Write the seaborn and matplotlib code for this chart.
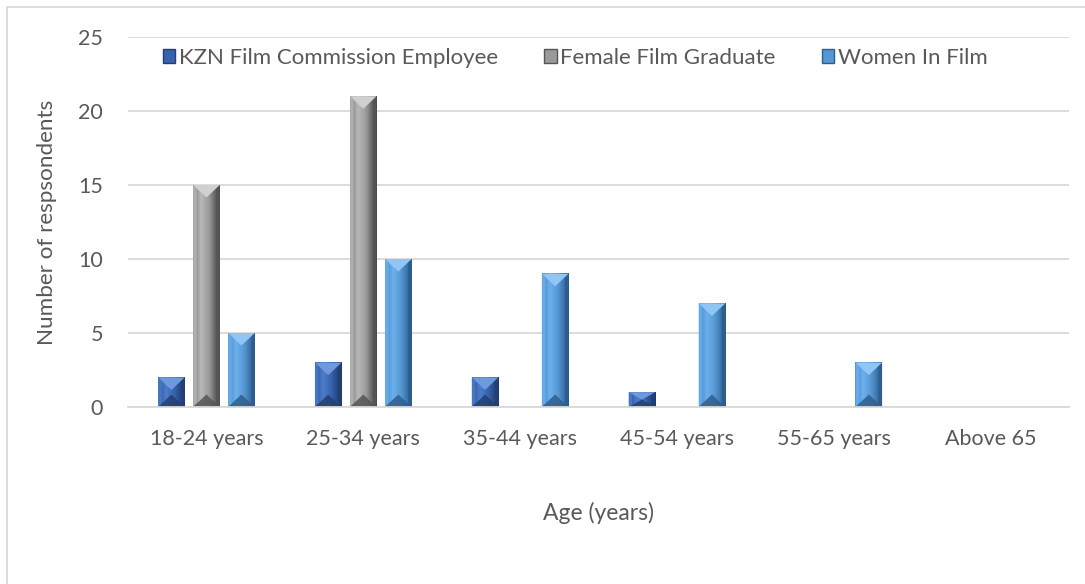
import pandas as pd
import seaborn as sns
import matplotlib.pyplot as plt
import matplotlib.patches as mpatches
from matplotlib.colors import LinearSegmentedColormap
import numpy as np

# Age groups and the number of respondents in each group
age_groups = ['18-24 years', '25-34 years', '35-44 years', '45-54 years', '55-65 years', 'Above 65']
series_names = ['KZN Film Commission Employee', 'Female Film Graduate', 'Women In Film']
kzn_employee = [2, 3, 2, 1, 0, 0]
film_graduate = [15, 21, 0, 0, 0, 0]
women_in_film = [5, 10, 9, 7, 3, 0]
y_ticks = [0, 5, 10, 15, 20, 25]

# base colours + gradient stops (left, highlight, mid, right) for the bevel look
base_colors = ['#3862AC', '#959595', '#559AD8']
gradients = [
    ['#2F5598', '#4C7DCB', '#3763AE', '#1B3566'],
    ['#7E7E7E', '#B8B8B8', '#9A9A9A', '#3C3C3C'],
    ['#468BCB', '#6CB0EC', '#5597D3', '#28598C'],
]
top_colors = ['#6F98E0', '#D0D0D0', '#8FC6F4']
bottom_colors = ['#243F72', '#555555', '#2F5E8E']

df = pd.DataFrame({
    'Age': age_groups * 3,
    'Series': [s for s in series_names for _ in age_groups],
    'Count': kzn_employee + film_graduate + women_in_film,
})

sns.set_style('white')
plt.rcParams['font.family'] = ['Lato', 'DejaVu Sans']
text_color = '#595959'

fig = plt.figure(figsize=(10.85, 5.84), dpi=100)
ax = fig.add_axes([128 / 1085, 1 - 407 / 584, 941 / 1085, 370 / 584])

sns.barplot(data=df, x='Age', y='Count', hue='Series', hue_order=series_names,
            palette=base_colors, width=0.67, gap=0.24, saturation=1,
            linewidth=0, ax=ax, legend=False)

ax.set_ylim(0, 25)
ax.set_xlim(-0.5, len(age_groups) - 0.5)
ax.set_yticks(y_ticks)
ax.yaxis.grid(True, color='#D9D9D9', linewidth=1.3)
ax.set_axisbelow(True)
for side in ['top', 'right', 'left']:
    ax.spines[side].set_visible(False)
ax.spines['bottom'].set_color('#D9D9D9')
ax.spines['bottom'].set_linewidth(1.3)
ax.tick_params(axis='both', length=0, labelsize=15.5, colors=text_color)
ax.tick_params(axis='y', pad=18)
ax.tick_params(axis='x', pad=16)
ax.set_xlabel('Age (years)', fontsize=16.5, color=text_color, va='center')
ax.set_ylabel('Number of respsondents', fontsize=16.2, color=text_color, va='center')
ax.xaxis.set_label_coords(0.5, (71 - 177) / 370)
ax.yaxis.set_label_coords((47 - 128) / 941, 0.5)

# fake the excel bevel on every bar (works off the bar patches seaborn made)
fig.canvas.draw()
to_data = ax.transData.inverted()
bars = [p for p in ax.patches if isinstance(p, mpatches.Rectangle)]
n_cat = len(age_groups)
for i, bar in enumerate(bars):
    k = i // n_cat
    if bar.get_height() <= 0:
        bar.set_visible(False)
        continue
    x0, y0 = bar.get_x(), bar.get_y()
    x1, y1 = x0 + bar.get_width(), y0 + bar.get_height()
    (px0, py0), (px1, py1) = ax.transData.transform([(x0, y0), (x1, y1)])
    w_px, h_px = px1 - px0, py1 - py0
    d_px = min(0.47 * w_px, h_px / 2)
    s_px = 3.5
    d = to_data.transform((px0, py0 + d_px))[1] - y0
    s = to_data.transform((px0 + s_px, py0))[0] - x0
    xc = (x0 + x1) / 2

    cmap = LinearSegmentedColormap.from_list('g', list(zip([0, 0.3, 0.6, 1], gradients[k])))
    ax.imshow(np.linspace(0, 1, 64).reshape(1, -1), cmap=cmap, aspect='auto',
              extent=(x0, x1, y0, y1), zorder=2.1, interpolation='bilinear')
    # side strips
    ax.add_patch(mpatches.Polygon([(x0, y0), (x0 + s, y0 + d * 0.3), (x0 + s, y1 - d * 0.3), (x0, y1)],
                                  closed=True, facecolor=gradients[k][1], edgecolor='none', zorder=2.2, alpha=0.8))
    ax.add_patch(mpatches.Polygon([(x1, y0), (x1 - s, y0 + d * 0.3), (x1 - s, y1 - d * 0.3), (x1, y1)],
                                  closed=True, facecolor=bottom_colors[k], edgecolor='none', zorder=2.2))
    # top and bottom bevel
    ax.add_patch(mpatches.Polygon([(x0, y1), (x1, y1), (xc, y1 - d)], closed=True,
                                  facecolor=top_colors[k], edgecolor='none', zorder=2.3))
    ax.add_patch(mpatches.Polygon([(x0, y0), (x1, y0), (xc, y0 + d)], closed=True,
                                  facecolor=bottom_colors[k], edgecolor='none', zorder=2.3, alpha=0.85))

ax.set_xlim(-0.5, len(age_groups) - 0.5)
ax.set_ylim(0, 25)

# Legend with little coloured boxes
handles = [mpatches.Patch(facecolor=gradients[k][2], edgecolor=bottom_colors[k], label=series_names[k])
           for k in range(3)]
fig.legend(handles=handles, loc='center left', bbox_to_anchor=(163 / 1085, 1 - 58 / 584),
           ncol=3, frameon=False, fontsize=16, labelcolor=text_color, borderpad=0, borderaxespad=0,
           handlelength=0.55, handleheight=0.55, handletextpad=0.15, columnspacing=2.1)

# light grey chart-area border (only left and top show in the picture)
fig.add_artist(mpatches.Rectangle((7 / 1085, -0.05), 1.1, 1 - 7 / 584 + 0.05, transform=fig.transFigure,
                                  fill=False, edgecolor='#D9D9D9', linewidth=1.3))

fig.savefig('out.png', dpi=100)
